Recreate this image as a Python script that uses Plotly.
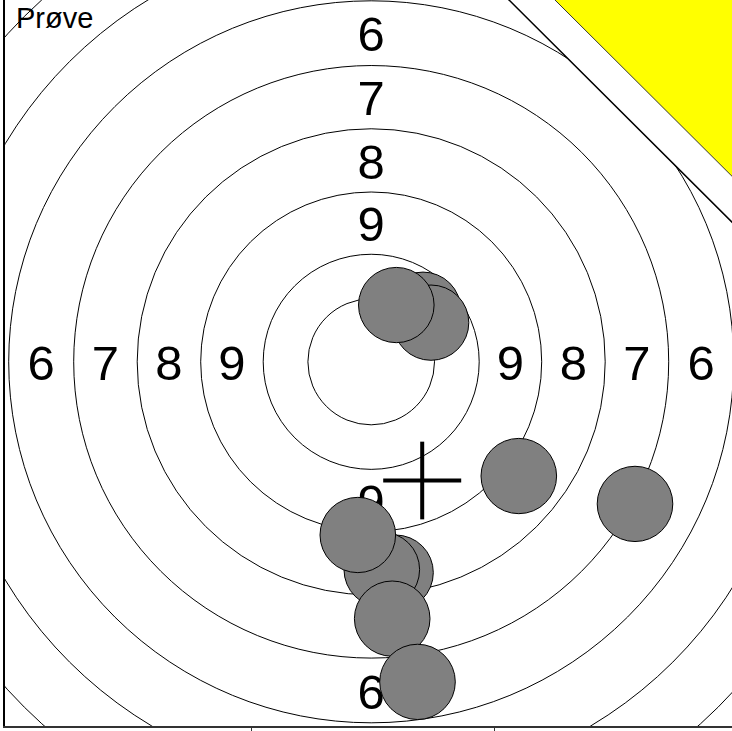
import plotly.graph_objects as go

# ---- data (target units, centre of target at 0,0) ----
ring_radii = [63.3, 108.0, 170.5, 234.0, 297.5, 362.5, 426.5, 490.5]
ring_labels = ["9", "8", "7", "6"]          # labels placed in rings between radii[1..5]
label_dirs = [(0, 1), (-1, 0), (1, 0), (0, -1)]

# shots in drawing order (back to front)
shot_x = [51.8, 59.8, 25.1, 24.3, 10.6, 21.0, 46.3, -13.4, 147.6, 263.8]
shot_y = [52.3, 39.3, 57.0, -211.7, -208.7, -257.9, -321.4, -173.9, -114.7, -142.7]
shot_radius = 37.8

cross_x = 51.0
cross_y = -119.2
cross_half = 39.0

sighter_white_offset = 501.1    # edge line x + y = offset
sighter_yellow_offset = 547.1

x_range = [-366.2, 360.8]
y_range = [-365.7, 363.3]
x_ticks = [-120.2, 122.8]
title_text = "Prøve"

LABEL_BASELINE_ADJ = -6.0   # visual centring of the digits

fig = go.Figure()
shapes = []
for r in ring_radii:
    shapes.append(dict(type="circle", xref="x", yref="y", x0=-r, y0=-r, x1=r, y1=r,
                       line=dict(color="black", width=1), layer="below"))

# ring number labels
lx, ly, lt = [], [], []
for i, lab in enumerate(ring_labels):
    rm = (ring_radii[i + 1] + ring_radii[i + 2]) / 2
    for dx, dy in label_dirs:
        lx.append(dx * rm)
        ly.append(dy * rm + LABEL_BASELINE_ADJ)
        lt.append(lab)
fig.add_trace(go.Scatter(x=lx, y=ly, mode="text", text=lt,
                         textposition="middle center",
                         textfont=dict(family="Liberation Sans, Arial", size=49, color="black"),
                         hoverinfo="skip"))

# mean point cross
fig.add_trace(go.Scatter(x=[cross_x - cross_half, cross_x + cross_half, None, cross_x, cross_x],
                         y=[cross_y, cross_y, None, cross_y - cross_half, cross_y + cross_half],
                         mode="lines", line=dict(color="black", width=4), hoverinfo="skip"))

# shots
for sx, sy in zip(shot_x, shot_y):
    shapes.append(dict(type="circle", xref="x", yref="y",
                       x0=sx - shot_radius, y0=sy - shot_radius,
                       x1=sx + shot_radius, y1=sy + shot_radius,
                       fillcolor="#808080", line=dict(color="black", width=1), layer="above"))

# sighter corner
c = sighter_white_offset
shapes.append(dict(type="path", xref="x", yref="y",
                   path=f"M {c-450},450 L 450,{c-450} L 450,450 Z",
                   fillcolor="white", line=dict(color="black", width=1.5), layer="above"))
c = sighter_yellow_offset
shapes.append(dict(type="path", xref="x", yref="y",
                   path=f"M {c-450},450 L 450,{c-450} L 450,450 Z",
                   fillcolor="#FFFF00", line=dict(color="#333333", width=1), layer="above"))

fig.update_layout(
    width=732, height=731,
    margin=dict(l=5, r=0, t=0, b=2, pad=0),
    showlegend=False,
    plot_bgcolor="white", paper_bgcolor="white",
    shapes=shapes,
    annotations=[dict(text=title_text, xref="paper", yref="paper", x=0.012, y=1,
                      xanchor="left", yanchor="top", yshift=0, showarrow=False,
                      font=dict(family="Liberation Sans, Arial", size=29, color="black"))],
)
fig.update_xaxes(range=x_range, showgrid=False, zeroline=False, showline=True,
                 linecolor="#333333", linewidth=2, ticks="outside", tickvals=x_ticks,
                 ticklen=5, tickcolor="#333333", showticklabels=False, fixedrange=True)
fig.update_yaxes(range=y_range, showgrid=False, zeroline=False, showline=True,
                 linecolor="black", linewidth=2, ticks="", showticklabels=False, fixedrange=True)

fig.write_html("out.html", config={"displayModeBar": False, "staticPlot": True},
               post_script="document.body.style.margin='0px';document.body.style.overflow='hidden';")
